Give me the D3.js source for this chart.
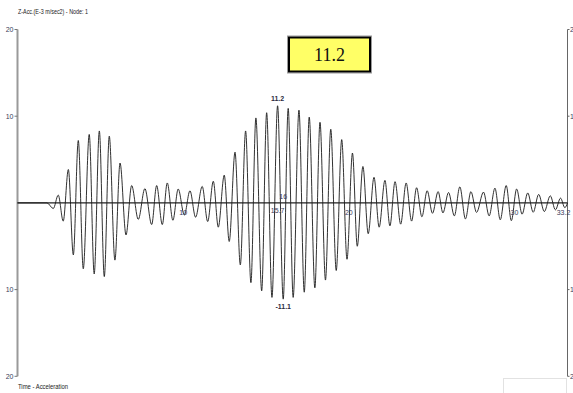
<!DOCTYPE html>
<html>
<head>
<meta charset="utf-8">
<script src="https://cdn.jsdelivr.net/npm/d3@7"></script>
<style>
  html, body { margin: 0; padding: 0; background: #fff; }
  svg { display: block; font-family: "Liberation Sans Narrow", "Liberation Sans", Arial, sans-serif; }
</style>
</head>
<body>
<svg id="chart" width="573" height="393"></svg>
<script>
// Acceleration record: successive peaks and troughs of the trace (time in s, value in E-3 m/sec2)
const times = [0, 1.78, 2.16, 2.46, 2.76, 3.07, 3.37, 3.67, 3.97, 4.33, 4.63, 4.94, 5.24, 5.54, 5.88,
  6.19, 6.55, 6.89, 7.29, 7.69, 8.10, 8.40, 8.74, 9.04, 9.38, 9.70, 10.07, 10.41, 10.75, 11.15,
  11.48, 11.82, 12.12, 12.48, 12.78, 13.13, 13.45, 13.77, 14.09, 14.39, 14.74, 15.04, 15.36, 15.7,
  16.04, 16.34, 16.64, 16.99, 17.31, 17.61, 17.95, 18.26, 18.59, 18.91, 19.24, 19.57, 19.89, 20.22,
  20.51, 20.85, 21.17, 21.52, 21.83, 22.18, 22.48, 22.79, 23.13, 23.46, 23.79, 24.09, 24.41, 24.73,
  25.05, 25.39, 25.68, 26.02, 26.37, 26.70, 27.04, 27.37, 27.71, 28.13, 28.47, 28.82, 29.14, 29.50,
  29.81, 30.13, 30.46, 30.80, 31.13, 31.46, 31.80, 32.16, 32.47, 32.78, 33.04, 33.2];
const accel = [0, 0, -0.65, 0.9, -2.1, 3.85, -6.0, 7.2, -7.6, 7.9, -8.2, 8.3, -8.5, 7.7, -6.6,
  4.6, -3.7, 2.0, -1.9, 1.65, -2.5, 2.0, -2.5, 2.3, -2.0, 1.6, -1.4, 1.4, -1.65, 1.9,
  -2.15, 2.5, -2.8, 3.2, -4.45, 5.85, -7.15, 8.3, -9.2, 9.8, -10.15, 10.4, -10.9, 11.2,
  -11.1, 10.9, -10.9, 10.7, -10.3, 9.9, -9.8, 9.3, -8.9, 8.5, -7.8, 7.3, -6.5, 5.75,
  -5.0, 4.2, -3.55, 2.95, -2.8, 2.6, -2.65, 2.45, -2.45, 2.3, -2.1, 1.75, -1.6, 1.4,
  -1.2, 1.3, -1.15, 1.2, -1.5, 1.85, -1.85, 1.3, -1.1, 1.25, -1.5, 1.7, -1.95, 2.0,
  -2.05, 1.6, -1.3, 1.15, -1.08, 0.98, -1.0, 0.82, -0.8, 0.55, -0.55, 0];

const xTicks = [10, 20, 30];
const leftTicks = [20, 10, -10, -20];
const leftTickLabels = ["20", "10", "10", "20"];
const rightTicks = [20, 10, -10, -20];
const rightTickLabels = ["2", "1", "1", "2"];

const titleText = "Z-Acc.(E-3 m/sec2) - Node: 1";
const footerText = "Time - Acceleration";

const maxValue = d3.max(accel);
const minValue = d3.min(accel);
const tMax = times[accel.indexOf(maxValue)];
const tMin = times[accel.indexOf(minValue)];
const tEnd = times[times.length - 1];

const svg = d3.select("#chart");
const x = d3.scaleLinear().domain([0, 33.2]).range([17.5, 567.5]);
const y = d3.scaleLinear().domain([-20, 20]).range([376.3, 29.5]);

const labelColor = "#3a3a5a";

// title and footer
svg.append("text").attr("x", 18).attr("y", 14).attr("font-size", 8)
  .attr("textLength", 70).attr("lengthAdjust", "spacingAndGlyphs")
  .attr("fill", "#222").text(titleText);
svg.append("text").attr("x", 18).attr("y", 389).attr("font-size", 8)
  .attr("textLength", 50).attr("lengthAdjust", "spacingAndGlyphs")
  .attr("fill", "#222").text(footerText);

// left axis
svg.append("line").attr("x1", x(0)).attr("x2", x(0))
  .attr("y1", y(20)).attr("y2", y(-20))
  .attr("stroke", "#9a9a9a").attr("stroke-width", 2);
const lt = svg.append("g");
leftTicks.forEach((v, i) => {
  lt.append("line").attr("x1", x(0) - 3).attr("x2", x(0))
    .attr("y1", y(v)).attr("y2", y(v)).attr("stroke", "#777");
  lt.append("text").attr("x", x(0) - 4).attr("y", y(v) + 2.5)
    .attr("text-anchor", "end").attr("font-size", 7).attr("fill", labelColor)
    .text(leftTickLabels[i]);
});

// right axis
svg.append("line").attr("x1", x(33.2)).attr("x2", x(33.2))
  .attr("y1", y(20)).attr("y2", y(-20))
  .attr("stroke", "#666").attr("stroke-width", 1);
const rt = svg.append("g");
rightTicks.forEach((v, i) => {
  rt.append("line").attr("x1", x(33.2)).attr("x2", x(33.2) + 2)
    .attr("y1", y(v)).attr("y2", y(v)).attr("stroke", "#666");
  rt.append("text").attr("x", x(33.2) + 2.5).attr("y", y(v) + 2.5)
    .attr("font-size", 7).attr("fill", labelColor)
    .text(rightTickLabels[i]);
});

// faint box at the lower right
svg.append("rect").attr("x", 503.5).attr("y", 378.5).attr("width", 63).attr("height", 16)
  .attr("fill", "none").attr("stroke", "#e2e2e2");

// time axis
svg.append("line").attr("x1", x(0)).attr("x2", x(33.2))
  .attr("y1", y(0)).attr("y2", y(0))
  .attr("stroke", "#222").attr("stroke-width", 1.2);

// trace
const data = times.map((t, i) => [t, accel[i]]);
const line = d3.line().x(d => x(d[0])).y(d => y(d[1])).curve(d3.curveMonotoneX);
svg.append("path").datum(data).attr("d", line)
  .attr("fill", "none").attr("stroke", "#1a1a1a").attr("stroke-width", 0.9);

// time tick labels
xTicks.forEach(t => {
  svg.append("text").attr("x", x(t)).attr("y", y(0) + 12)
    .attr("text-anchor", "middle").attr("font-size", 7).attr("fill", labelColor)
    .attr("stroke", "#fff").attr("stroke-width", 0).text(t);
});
svg.append("text").attr("x", x(tMax)).attr("y", y(0) + 10)
  .attr("text-anchor", "middle").attr("font-size", 7).attr("fill", labelColor)
  .text(tMax.toFixed(1));
svg.append("text").attr("x", x(tMin)).attr("y", y(0) - 4)
  .attr("text-anchor", "middle").attr("font-size", 7).attr("fill", labelColor)
  .text(Math.round(tMin));
svg.append("text").attr("x", x(tEnd) - 4).attr("y", y(0) + 12)
  .attr("text-anchor", "middle").attr("font-size", 7).attr("fill", labelColor)
  .text(tEnd.toFixed(1));

// extreme value labels
svg.append("text").attr("x", x(tMax)).attr("y", y(maxValue) - 5)
  .attr("text-anchor", "middle").attr("font-size", 7).attr("font-weight", "bold")
  .attr("fill", "#2a2a40").text(maxValue.toFixed(1));
svg.append("text").attr("x", x(tMin)).attr("y", y(minValue) + 10)
  .attr("text-anchor", "middle").attr("font-size", 7).attr("font-weight", "bold")
  .attr("fill", "#2a2a40").text(minValue.toFixed(1));

// peak value box
const box = svg.append("g").attr("transform", "translate(288.5,37)");
box.append("rect").attr("x", -1).attr("y", -1).attr("width", 84).attr("height", 37)
  .attr("fill", "none").attr("stroke", "#9a9a9a").attr("stroke-width", 1);
box.append("rect").attr("x", 0.5).attr("y", 0.5).attr("width", 81).attr("height", 34)
  .attr("fill", "#ffff66").attr("stroke", "#000").attr("stroke-width", 2);
box.append("text").attr("x", 41).attr("y", 24).attr("text-anchor", "middle")
  .attr("font-family", "'Liberation Serif', 'DejaVu Serif', serif").attr("font-size", 18)
  .attr("fill", "#111").text(maxValue.toFixed(1));
</script>
</body>
</html>
